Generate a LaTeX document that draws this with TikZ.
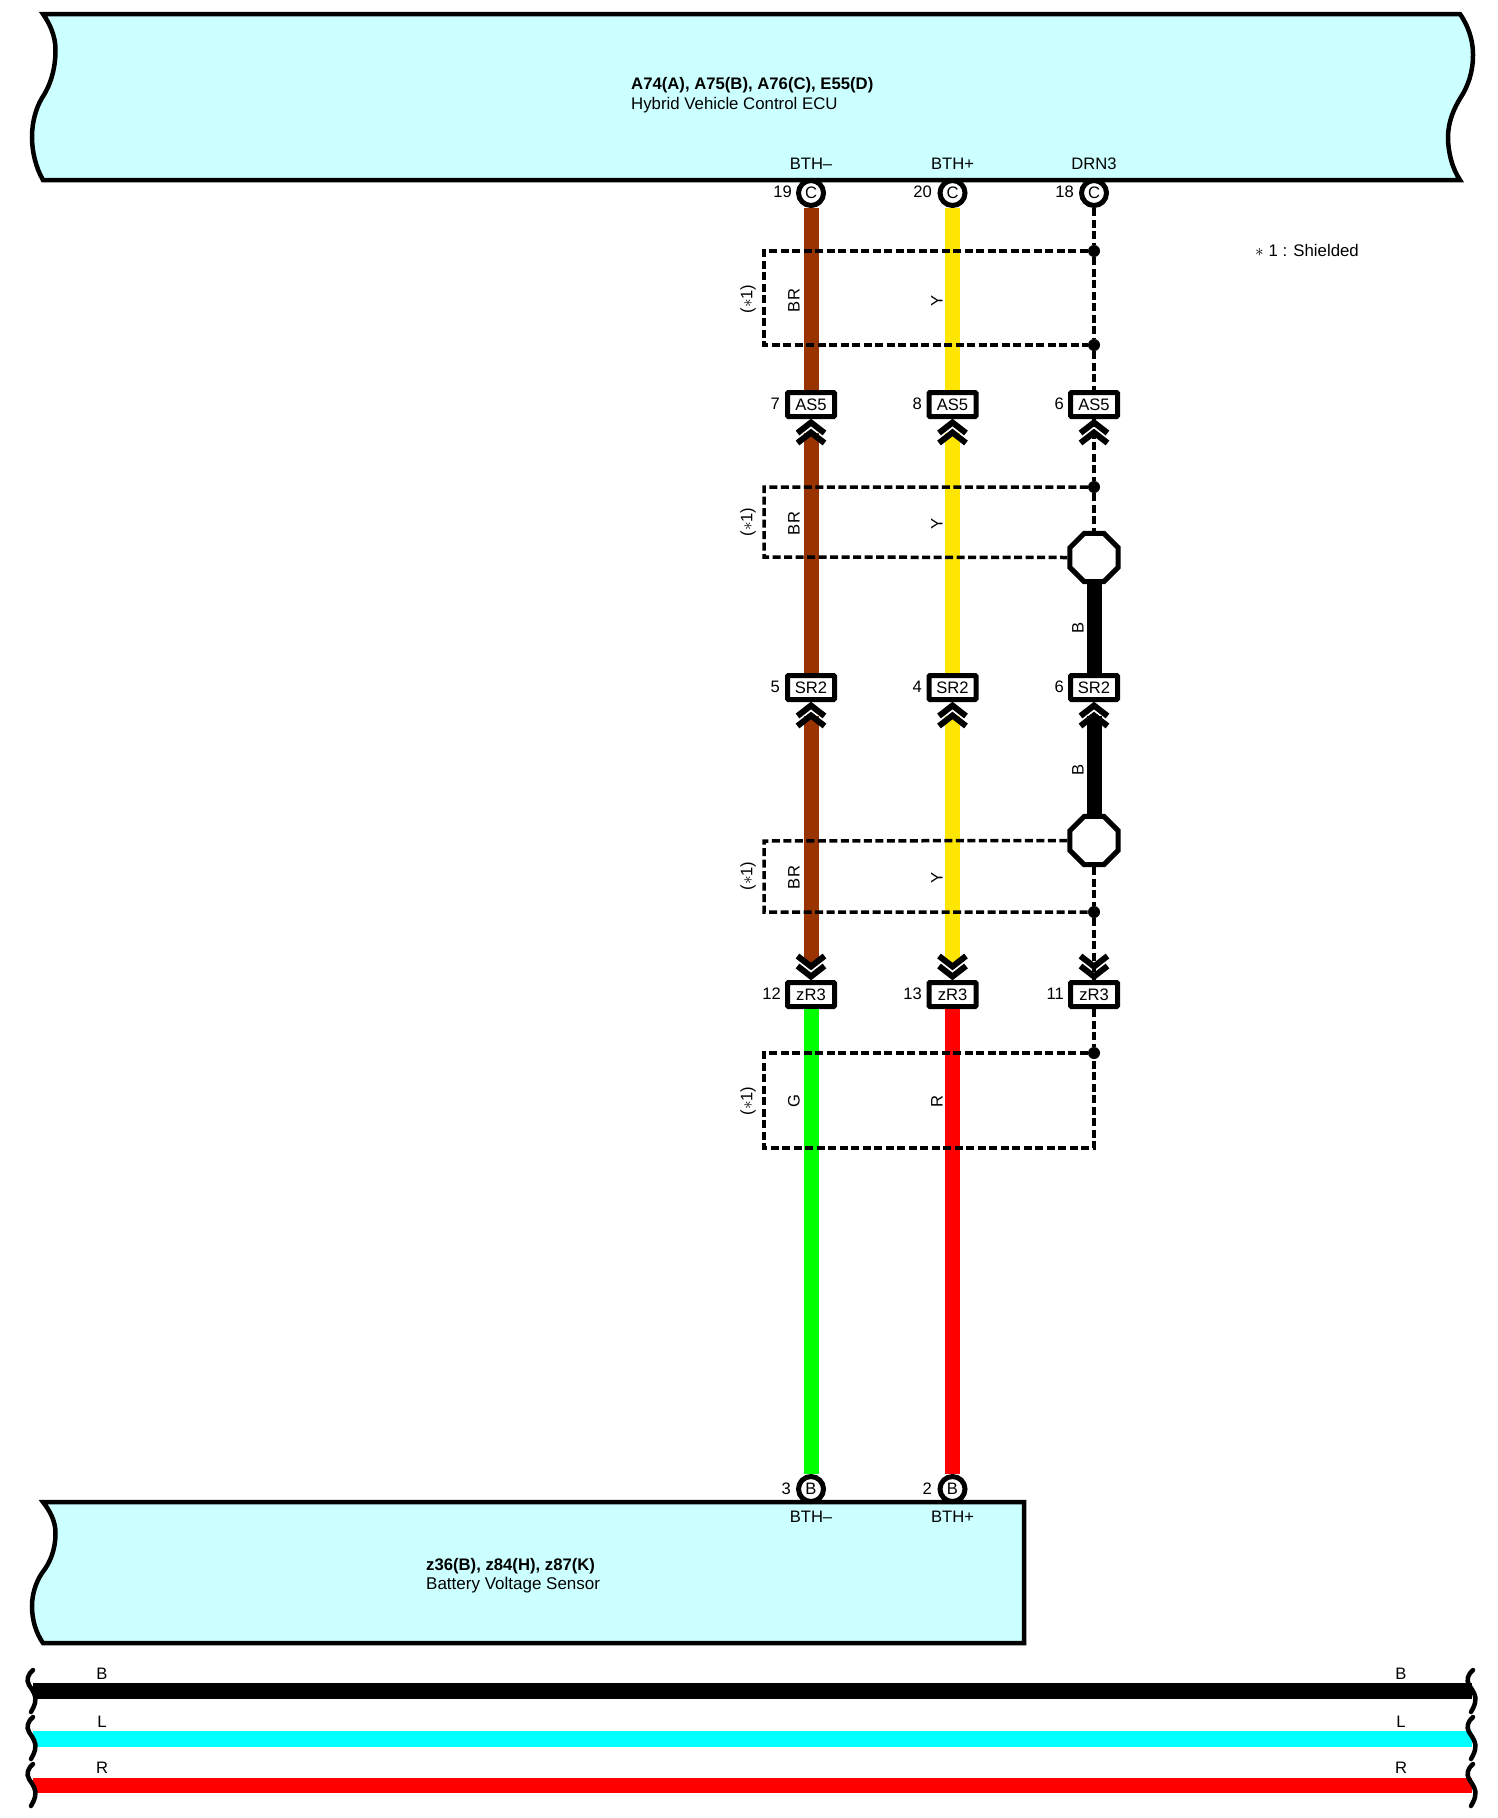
\documentclass[tikz,border=0pt]{standalone}
\usepackage{fontspec}
\setmainfont{Liberation Sans}
\usetikzlibrary{shapes.geometric,calc}
\definecolor{ecublue}{HTML}{CCFFFF}
\definecolor{wirebr}{HTML}{993300}
\definecolor{wirey}{HTML}{FFE600}
\definecolor{wireg}{HTML}{00FF00}
\definecolor{wirer}{HTML}{FF0000}
\definecolor{wirel}{HTML}{00FFFF}
\tikzset{
  txt/.style={inner sep=0pt,font=\fontsize{16.6}{18}\selectfont},
  headtxt/.style={inner sep=0pt,anchor=west,font=\fontsize{16.8}{18}\selectfont},
  unit/.style={draw=black,line width=4.5pt,fill=ecublue},
  pinc/.style={circle,draw=black,line width=5pt,fill=white,minimum size=25pt,inner sep=0pt,font=\fontsize{16.6}{18}\selectfont},
  conn/.style={rectangle,draw=black,line width=5pt,fill=white,rounded corners=1pt,minimum width=47pt,minimum height=24pt,inner sep=0pt,font=\fontsize{16.6}{18}\selectfont},
  octa/.style={regular polygon,regular polygon sides=8,draw=black,line width=5pt,fill=white,minimum size=52pt,inner sep=0pt},
  joint/.style={circle,fill=black,minimum size=12pt,inner sep=0pt},
  wire/.style={line width=15pt},
  shield/.style={line width=3.5pt,dash pattern=on 8pt off 3.5pt},
  chevline/.style={line width=6pt,miter limit=10},
  bus/.style={line width=15.5pt},
  squig/.style={line width=4.5pt,line cap=round},
  twochev/.pic={
    \draw[chevline] (-13.5,14) -- (0,3.5) -- (13.5,14);
    \draw[chevline] (-13.5,24) -- (0,13.5) -- (13.5,24);
  }
}
\begin{document}
\begin{tikzpicture}[x=1pt,y=-1pt]
  \useasboundingbox (0,0) rectangle (1497,1818);
  % units
  \draw[unit] (43,14) -- (1460,14) .. controls (1467,24) and (1473,38) .. (1473,55)
    .. controls (1473,72) and (1468,86) .. (1461,97) .. controls (1454,108) and (1448,122) .. (1448,137)
    .. controls (1448,152) and (1452,168) .. (1460,180) -- (43,180)
    .. controls (36,168) and (32,152) .. (32,137) .. controls (32,122) and (36,108) .. (42,98)
    .. controls (50,86) and (55.5,70) .. (55.5,50) .. controls (55.5,36) and (50,24) .. (43,14) -- cycle;
  \draw[unit] (43,1502) -- (1024,1502) -- (1024,1643) -- (43,1643)
    .. controls (36,1633) and (32,1620) .. (32,1606) .. controls (32,1594) and (36,1582) .. (42,1573)
    .. controls (50,1563) and (55.5,1550) .. (55.5,1533) .. controls (55.5,1521) and (50,1511) .. (43,1502) -- cycle;
  \node[headtxt,font=\fontsize{16.7}{18}\selectfont\bfseries] (ecuname) at (631,85) {A74(A), A75(B), A76(C), E55(D)};
  \node[headtxt] (ecutitle) at (631,105.5) {Hybrid Vehicle Control ECU};
  \node[headtxt,font=\fontsize{16.7}{18}\selectfont\bfseries] (sensname) at (426,1566.5) {z36(B), z84(H), z87(K)};
  \node[headtxt,font=\fontsize{17}{18}\selectfont] (senstitle) at (426,1585.5) {Battery Voltage Sensor};
  \node[headtxt] (note) at (1255,250) {$\ast$ 1 : Shielded};
  % terminals
  \node[txt] (tbm) at (811,163.5) {BTH–};
  \node[txt] (tbp) at (952.5,163.5) {BTH+};
  \node[txt] (tdr) at (1094,163.5) {DRN3};
  \node[txt] (sbm) at (811,1517) {BTH–};
  \node[txt] (sbp) at (952.5,1517) {BTH+};
  \node[pinc] (pina) at (811,193) {C};
  \node[pinc] (pinb) at (952.5,193) {C};
  \node[pinc] (pinc) at (1094,193) {C};
  \node[pinc] (pind) at (811,1489) {B};
  \node[pinc] (pine) at (952.5,1489) {B};
  \node[txt,anchor=east] (na) at (792,192) {19};
  \node[txt,anchor=east] (nb) at (932,192) {20};
  \node[txt,anchor=east] (nc) at (1074,192) {18};
  \node[txt,anchor=east] (nd) at (791,1489) {3};
  \node[txt,anchor=east] (ne) at (932,1489) {2};
  % connectors
  \node[conn] (asa) at (811,404.5) {AS5};
  \node[conn] (asb) at (952.5,404.5) {AS5};
  \node[conn] (asc) at (1094,404.5) {AS5};
  \node[conn] (sra) at (811,687.5) {SR2};
  \node[conn] (srb) at (952.5,687.5) {SR2};
  \node[conn] (src) at (1094,687.5) {SR2};
  \node[conn] (zra) at (811,994.5) {zR3};
  \node[conn] (zrb) at (952.5,994.5) {zR3};
  \node[conn] (zrc) at (1094,994.5) {zR3};
  \node[txt,anchor=east] (nasa) at (780,404) {7};
  \node[txt,anchor=east] (nasb) at (922,404) {8};
  \node[txt,anchor=east] (nasc) at (1064,404) {6};
  \node[txt,anchor=east] (nsra) at (780,687) {5};
  \node[txt,anchor=east] (nsrb) at (922,687) {4};
  \node[txt,anchor=east] (nsrc) at (1064,687) {6};
  \node[txt,anchor=east] (nzra) at (781,994) {12};
  \node[txt,anchor=east] (nzrb) at (922,994) {13};
  \node[txt,anchor=east] (nzrc) at (1064,994) {11};
  % splices and shield joints
  \node[octa] (octa) at (1094,557.5) {};
  \node[octa] (octb) at (1094,840.5) {};
  \node[joint] (ja) at (1094,251) {};
  \node[joint] (jb) at (1094,345) {};
  \node[joint] (jc) at (1094,487) {};
  \node[joint] (jd) at (1094,912) {};
  \node[joint] (je) at (1094,1053) {};
  \coordinate (sata) at (764,251);
  \coordinate (satb) at (764,345);
  \coordinate (sbta) at (764,487);
  \coordinate (sbtb) at (764,557);
  \coordinate (scta) at (764,841);
  \coordinate (sctb) at (764,912);
  \coordinate (sdta) at (764,1053);
  \coordinate (sdtb) at (764,1148);
  \coordinate (sdtc) at (1094,1148);
  % wires
  \draw[wire,wirebr] (pina.south) -- (asa.north);
  \draw[wire,wirebr,shorten <=13.5pt] (asa.south) -- (sra.north);
  \draw[wire,wirebr,shorten <=13.5pt,shorten >=17pt] (sra.south) -- (zra.north);
  \draw[wire,wireg] (zra.south) -- (pind.north);
  \draw[wire,wirey] (pinb.south) -- (asb.north);
  \draw[wire,wirey,shorten <=13.5pt] (asb.south) -- (srb.north);
  \draw[wire,wirey,shorten <=13.5pt,shorten >=17pt] (srb.south) -- (zrb.north);
  \draw[wire,wirer] (zrb.south) -- (pine.north);
  \draw[wire,black] (octa.south) -- (src.north);
  \draw[wire,black,shorten <=13.5pt] (src.south) -- (octb.north);
  % shields
  \draw[shield] (pinc.south) -- (ja) -- (jb) -- (asc.north);
  \draw[shield] (ja) -- (sata) -- (satb) -- (jb);
  \draw[shield] (asc.south) -- (jc) -- (octa.north);
  \draw[shield] (jc) -- (sbta) -- (sbtb) -- (octa.west);
  \draw[shield] (octb.west) -- (scta) -- (sctb) -- (jd);
  \draw[shield] (octb.south) -- (jd) -- (zrc.north);
  \draw[shield] (zrc.south) -- (je);
  \draw[shield] (je) -- (sdta) -- (sdtb) -- (sdtc) -- (je);
  % chevrons
  \foreach \n in {asa,asb,asc,sra,srb,src} {\pic at (\n.south) {twochev};}
  \foreach \n in {zra,zrb,zrc} {\pic[rotate=180] at (\n.north) {twochev};}
  % wire colour labels
  \foreach \y in {300.5,523.5,877.5} {
    \node[txt,rotate=90] (lbr\y) at (794,\y) {BR};
    \node[txt,rotate=90] (ly\y) at (937,\y) {Y};
    \node[txt,rotate=90] (ls\y) at (748,\y-1.5) {($\ast$1)};
  }
  \node[txt,rotate=90] (lg) at (794,1101) {G};
  \node[txt,rotate=90] (lr) at (937,1101) {R};
  \node[txt,rotate=90] (lsh) at (748,1101) {($\ast$1)};
  \node[txt,rotate=90] (lba) at (1078,628) {B};
  \node[txt,rotate=90] (lbb) at (1078,770) {B};
  % buses
  \coordinate (busal) at (33,1691);
  \coordinate (busar) at (1472,1691);
  \coordinate (busbl) at (33,1739);
  \coordinate (busbr) at (1472,1739);
  \coordinate (buscl) at (33,1785.5);
  \coordinate (buscr) at (1472,1785.5);
  \draw[bus,black] (busal) -- (busar);
  \draw[bus,wirel] (busbl) -- (busbr);
  \draw[bus,wirer] (buscl) -- (buscr);
  \foreach \y in {0,47,94} {
    \draw[squig] (33,1670+\y) .. controls (28,1674+\y) and (26,1680+\y) .. (29,1685+\y)
      .. controls (33,1691+\y) and (37,1696+\y) .. (35,1703+\y) .. controls (34,1707+\y) and (32,1710+\y) .. (31,1712+\y);
    \draw[squig] (1473,1670+\y) .. controls (1468,1674+\y) and (1466,1680+\y) .. (1469,1685+\y)
      .. controls (1473,1691+\y) and (1477,1696+\y) .. (1475,1703+\y) .. controls (1474,1707+\y) and (1472,1710+\y) .. (1471,1712+\y);
  }
  \node[txt] (bla) at (102,1674) {B};
  \node[txt] (blb) at (102,1722) {L};
  \node[txt] (blc) at (102,1768) {R};
  \node[txt] (bra) at (1401,1674) {B};
  \node[txt] (brb) at (1401,1722) {L};
  \node[txt] (brc) at (1401,1768) {R};
\end{tikzpicture}
\end{document}
